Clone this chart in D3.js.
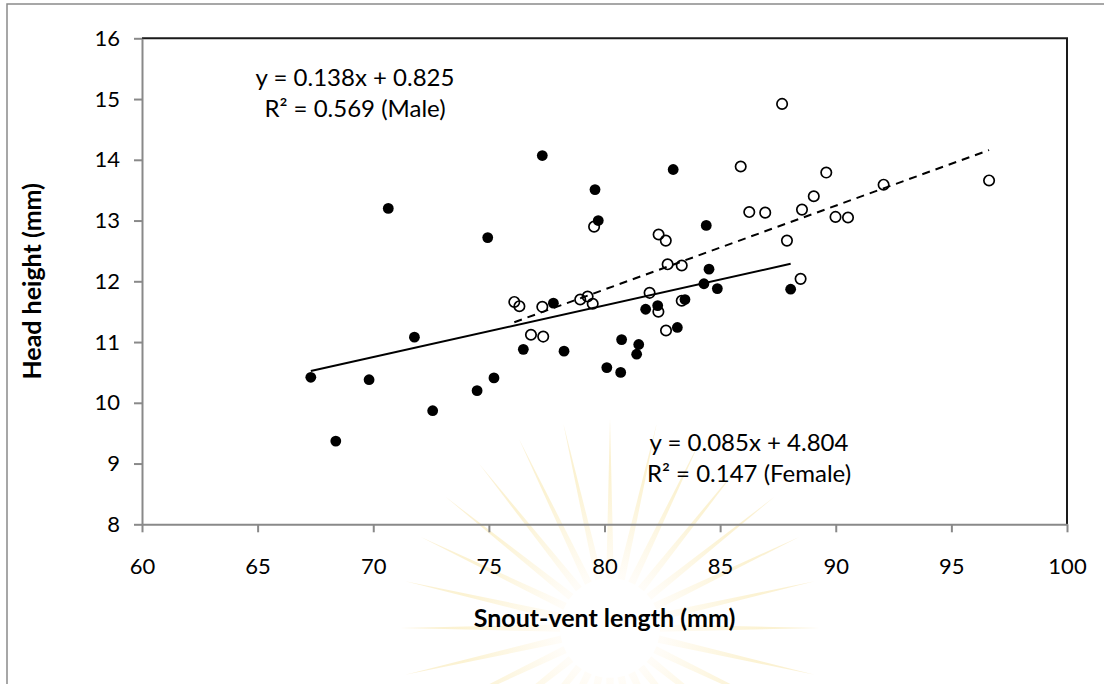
<!DOCTYPE html>
<html>
<head>
<meta charset="utf-8">
<script src="https://cdn.jsdelivr.net/npm/d3@7"></script>
<style>
  body { margin: 0; background: #fff; }
  svg text { font-family: Lato, "Open Sans", sans-serif; fill: #000; }
</style>
</head>
<body>
<svg id="chart" width="1104" height="684"></svg>
<script>
'use strict';

// female = filled dots, male = open dots
var femaleSVL = [70.65, 77.31, 79.59, 82.97, 79.73, 74.95, 77.79, 84.40, 84.52, 84.30,
                 84.88, 88.05, 81.78, 82.30, 83.48, 83.15, 71.78, 76.49, 78.25, 80.74,
                 81.48, 81.39, 80.10, 80.70, 75.22, 74.49, 72.57, 67.30, 69.82, 68.38];
var femaleHH  = [13.20, 14.07, 13.51, 13.84, 13.00, 12.72, 11.64, 12.92, 12.20, 11.96,
                 11.88, 11.87, 11.54, 11.60, 11.70, 11.24, 11.08, 10.88, 10.85, 11.04,
                 10.96, 10.80, 10.58, 10.50, 10.41, 10.20, 9.87, 10.42, 10.38, 9.37];

var maleSVL = [87.68, 85.89, 89.59, 96.63, 92.07, 89.05, 86.26, 86.95, 88.54, 89.99,
               90.53, 79.55, 82.34, 82.65, 87.89, 82.73, 83.34, 88.48, 76.10, 76.32,
               77.31, 78.95, 79.27, 79.49, 81.95, 82.33, 83.34, 76.82, 77.35, 82.66];
var maleHH  = [14.92, 13.89, 13.79, 13.66, 13.59, 13.40, 13.14, 13.13, 13.18, 13.06,
               13.05, 12.90, 12.77, 12.67, 12.67, 12.28, 12.26, 12.04, 11.66, 11.59,
               11.58, 11.70, 11.75, 11.63, 11.81, 11.50, 11.68, 11.12, 11.09, 11.19];

var trendSlopes = [0.138, 0.085];        // male, female
var trendIntercepts = [0.825, 4.804];
var trendLabels = [
  ['y = 0.138x + 0.825', 'R\u00b2 = 0.569 (Male)'],
  ['y = 0.085x + 4.804', 'R\u00b2 = 0.147 (Female)']
];

var xTicks = [60, 65, 70, 75, 80, 85, 90, 95, 100];
var yTicks = [8, 9, 10, 11, 12, 13, 14, 15, 16];

var plotLeft = 142, plotRight = 1067, plotTop = 38.3, plotBottom = 524.3;

var svg = d3.select('#chart');

var x = d3.scaleLinear().domain([60, 100]).range([plotLeft, plotRight]);
var y = d3.scaleLinear().domain([8, 16]).range([plotBottom, plotTop]);

// chart outer frame
svg.append('rect')
  .attr('x', 7).attr('y', 4)
  .attr('width', 1200).attr('height', 800)
  .attr('fill', 'none')
  .attr('stroke', '#8a8a8a')
  .attr('stroke-width', 1.5);

// faint watermark emblem behind the plot
var grad = svg.append('defs').append('radialGradient')
  .attr('id', 'rayGrad')
  .attr('gradientUnits', 'userSpaceOnUse')
  .attr('cx', 0).attr('cy', 0).attr('r', 215);
grad.append('stop').attr('offset', '25%').attr('stop-color', '#fffaf0');
grad.append('stop').attr('offset', '70%').attr('stop-color', '#f8e6a6');
grad.append('stop').attr('offset', '100%').attr('stop-color', '#f6e2a8');

var emblem = svg.append('g').attr('transform', 'translate(610,628)');
var rays = d3.range(28);
emblem.selectAll('path')
  .data(rays)
  .enter()
  .append('path')
  .attr('d', function(i) {
    var a = i / rays.length * 2 * Math.PI;
    var w = 0.075;
    var r0 = 50, r1 = 210;
    var p = d3.path();
    p.moveTo(r0 * Math.sin(a - w), -r0 * Math.cos(a - w));
    p.lineTo(r1 * Math.sin(a), -r1 * Math.cos(a));
    p.lineTo(r0 * Math.sin(a + w), -r0 * Math.cos(a + w));
    p.closePath();
    return p.toString();
  })
  .attr('fill', 'url(#rayGrad)')
  .attr('opacity', 0.5);

// plot frame: grey axes left/bottom, dark border top/right
svg.append('path')
  .attr('d', 'M' + plotLeft + ',' + plotTop + 'H' + plotRight + 'V' + plotBottom)
  .attr('fill', 'none')
  .attr('stroke', '#1a1a1a')
  .attr('stroke-width', 2);

var xAxis = svg.append('g')
  .attr('transform', 'translate(0,' + plotBottom + ')')
  .call(d3.axisBottom(x).tickValues(xTicks).tickSize(8).tickPadding(26).tickSizeOuter(0));

var yAxis = svg.append('g')
  .attr('transform', 'translate(' + plotLeft + ',0)')
  .call(d3.axisLeft(y).tickValues(yTicks).tickSize(8).tickPadding(14).tickSizeOuter(0));

[xAxis, yAxis].forEach(function(ax) {
  ax.select('.domain').attr('stroke', '#898989').attr('stroke-width', 2);
  ax.selectAll('.tick line').attr('stroke', '#898989').attr('stroke-width', 2);
  ax.selectAll('.tick text')
    .style('font-family', 'Lato, sans-serif')
    .style('font-size', '22px')
    .attr('fill', '#000');
});

// axis titles
svg.append('text')
  .attr('x', (plotLeft + plotRight) / 2)
  .attr('y', 618)
  .attr('dy', '0.35em')
  .attr('text-anchor', 'middle')
  .style('font-size', '25px')
  .style('font-weight', 'bold')
  .text('Snout-vent length (mm)');

svg.append('text')
  .attr('transform', 'translate(32,' + ((plotTop + plotBottom) / 2) + ') rotate(-90)')
  .attr('dy', '0.35em')
  .attr('text-anchor', 'middle')
  .style('font-size', '25px')
  .style('font-weight', 'bold')
  .text('Head height (mm)');

// points
var male = maleSVL.map(function(v, i) { return { x: v, y: maleHH[i] }; });
var female = femaleSVL.map(function(v, i) { return { x: v, y: femaleHH[i] }; });

svg.append('g').selectAll('circle')
  .data(male)
  .enter()
  .append('circle')
  .attr('cx', d => x(d.x))
  .attr('cy', d => y(d.y))
  .attr('r', 5.2)
  .attr('fill', 'none')
  .attr('stroke', '#000')
  .attr('stroke-width', 1.7);

svg.append('g').selectAll('circle')
  .data(female)
  .enter()
  .append('circle')
  .attr('cx', d => x(d.x))
  .attr('cy', d => y(d.y))
  .attr('r', 5.4)
  .attr('fill', '#000');

// trend lines over each group's range
var groups = [maleSVL, femaleSVL];
groups.forEach(function(xs, k) {
  var x0 = d3.min(xs), x1 = d3.max(xs);
  svg.append('line')
    .attr('x1', x(x0)).attr('y1', y(trendSlopes[k] * x0 + trendIntercepts[k]))
    .attr('x2', x(x1)).attr('y2', y(trendSlopes[k] * x1 + trendIntercepts[k]))
    .attr('stroke', '#000')
    .attr('stroke-width', 2)
    .attr('stroke-dasharray', k === 0 ? '8,6' : null);
});

// equation labels
var labelPos = [[355, 78], [749, 443]];
trendLabels.forEach(function(lines, k) {
  var t = svg.append('text')
    .attr('text-anchor', 'middle')
    .style('font-size', '24px');
  lines.forEach(function(s, j) {
    t.append('tspan')
      .attr('x', labelPos[k][0])
      .attr('y', labelPos[k][1] + j * 31)
      .attr('dy', '0.35em')
      .text(s);
  });
});
</script>
</body>
</html>
